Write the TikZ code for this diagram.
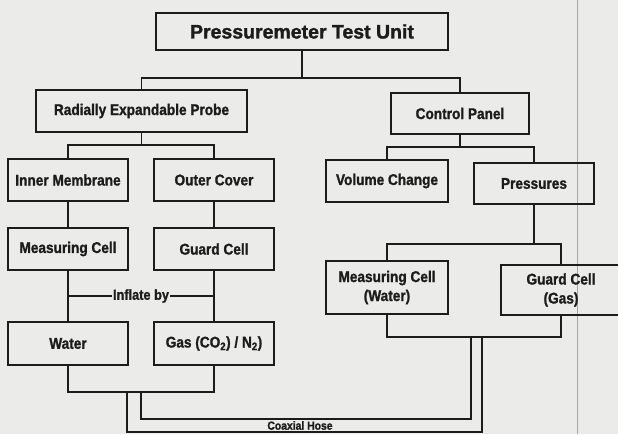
\documentclass[tikz,border=0pt]{standalone}
\usepackage{fontspec}
\setmainfont{Liberation Sans}[FakeStretch=0.88,BoldFeatures={FakeBold=1.2}]
\newfontfamily\titlefont{Liberation Sans}[BoldFeatures={FakeBold=1.5}]
\definecolor{bg}{RGB}{235,235,233}
\definecolor{ink}{RGB}{28,28,28}
\begin{document}
\begin{tikzpicture}[x=1pt,y=-1pt,
  box/.style={draw=ink,line width=1.8pt,fill=none,text=ink,inner sep=0pt,align=center,
    font=\fontsize{15.5}{19}\selectfont\bfseries},
  wire/.style={draw=ink,line width=1.8pt,line cap=rect},
  lbl/.style={text=ink,inner sep=1pt,font=\fontsize{14.5}{17}\selectfont\bfseries}]
\fill[bg] (0,0) rectangle (618,434);
\useasboundingbox (0,0) rectangle (618,434);
\clip (0,0) rectangle (618,434);
\draw[gray!70,line width=0.6pt] (577,0) -- (577,434);
% nodes
\node[box,minimum width=292pt,minimum height=37pt,font=\titlefont\fontsize{19.5}{22}\selectfont\bfseries] (title) at (302,31.5) {Pressuremeter Test Unit};
\node[box,minimum width=211pt,minimum height=42pt] (probe) at (141.5,111) {Radially Expandable Probe};
\node[box,minimum width=138pt,minimum height=41pt] (panel) at (460,113.5) {Control Panel};
\node[box,minimum width=120pt,minimum height=42pt] (inner) at (68,180) {Inner Membrane};
\node[box,minimum width=120pt,minimum height=42pt] (outer) at (214,180) {Outer Cover};
\node[box,minimum width=120pt,minimum height=42pt] (mcell) at (68,249) {Measuring Cell};
\node[box,minimum width=120pt,minimum height=42pt] (gcell) at (214,249) {Guard Cell};
\node[box,minimum width=120pt,minimum height=43pt] (water) at (68,343.5) {Water};
\node[box,minimum width=120pt,minimum height=43pt] (gas) at (214,343.5) {Gas (CO\textsubscript{2}) / N\textsubscript{2})};
\node[box,minimum width=122pt,minimum height=42pt] (volchg) at (387,181) {Volume Change};
\node[box,minimum width=120pt,minimum height=41pt] (press) at (534,183.5) {Pressures};
\node[box,minimum width=122pt,minimum height=53pt] (mcw) at (387,287.5) {Measuring Cell\\(Water)};
\node[box,minimum width=120pt,minimum height=50pt] (gcg) at (561,290) {Guard Cell\\(Gas)};
% junctions
\coordinate (j1) at (302,78);
\coordinate (j2) at (141.5,145);
\coordinate (j3) at (460,147);
\coordinate (j4) at (534,244);
\coordinate (i1) at (68,296);
\coordinate (i2) at (214,296);
\coordinate (b1) at (141,392);
\coordinate (b2) at (127,392);
\coordinate (r1) at (471,337);
\coordinate (r2) at (482,337);
\coordinate (ci1) at (141,419);
\coordinate (ci2) at (471,419);
\coordinate (co1) at (127,432);
\coordinate (co2) at (482,432);
% connectors
\draw[wire] (title.south) -- (j1);
\draw[wire] (probe.north) |- (j1) -| (panel.north);
\draw[wire] (probe.south) -- (j2);
\draw[wire] (inner.north) |- (j2) -| (outer.north);
\draw[wire] (inner) -- (mcell);
\draw[wire] (outer) -- (gcell);
\draw[wire] (mcell.south) -- (water.north);
\draw[wire] (gcell.south) -- (gas.north);
\draw[wire] (i1) -- node[lbl,fill=bg]{Inflate by} (i2);
\draw[wire] (water.south) |- (b1) -| (gas.south);
\draw[wire] (panel.south) -- (j3);
\draw[wire] (volchg.north) |- (j3) -| (press.north);
\draw[wire] (press.south) -- (j4);
\draw[wire] (mcw.north) |- (j4) -| (gcg.north);
\draw[wire] (mcw.south) |- (r1) -| (gcg.south);
\draw[wire] (b1) -- (ci1) -- (ci2) -- (r1);
\draw[wire] (b2) -- (co1) -- (co2) -- (r2);
\node[text=ink,inner sep=0pt,font=\fontsize{11.8}{13}\selectfont\bfseries] (coax) at (300,425.5) {Coaxial Hose};
\end{tikzpicture}
\end{document}
